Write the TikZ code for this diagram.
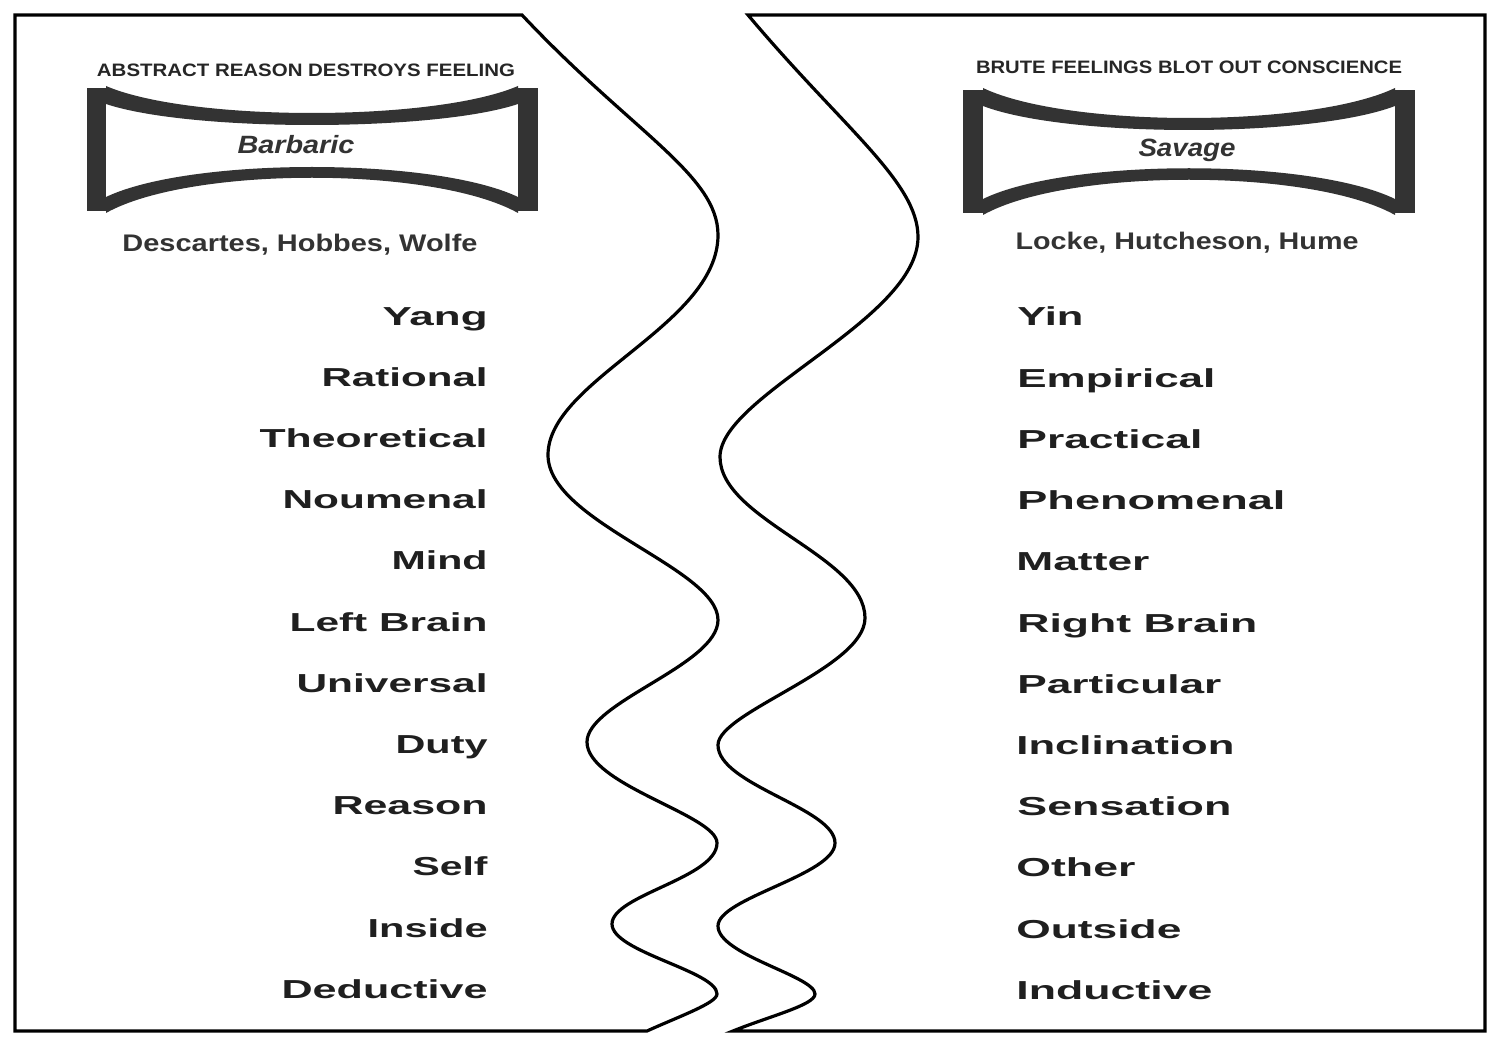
\documentclass[tikz,border=0pt]{standalone}
\usepackage{fontspec}
\setmainfont{Liberation Sans}
\usepackage{graphicx}
\newcommand{\fw}[2]{\resizebox{\dimexpr #1pt/2\relax}{\height}{#2}}
\tikzset{
  panel/.style={line width=1.6pt, line join=miter},
  hgfill/.style={fill=black!80},
  item/.style={inner sep=0pt, font=\fontsize{13}{15}\selectfont\bfseries, text=black!88},
  litem/.style={item, anchor=base east},
  ritem/.style={item, anchor=base west},
  headtxt/.style={inner sep=0pt, anchor=base, font=\fontsize{9}{11}\selectfont\bfseries, text=black!85},
  kindtxt/.style={inner sep=0pt, anchor=base, font=\fontsize{12.5}{14}\selectfont\bfseries\itshape, text=black!80},
  nametxt/.style={inner sep=0pt, anchor=base, font=\fontsize{12}{14}\selectfont\bfseries, text=black!80}
}
\begin{document}
\begin{tikzpicture}[x=0.5pt,y=-0.5pt]
\fill[white] (0,0) rectangle (1500,1043);
\useasboundingbox (0,0) rectangle (1500,1043);

% left panel
\draw[panel] (647,1031) -- (15,1031) -- (15,15) -- (522,15)
  .. controls (632,132) and (718,175) .. (718,235)
  .. controls (718,325) and (548,380) .. (548,455)
  .. controls (548,522) and (718,568) .. (718,620)
  .. controls (718,665) and (587,702) .. (587,742)
  .. controls (587,785) and (717,815) .. (717,843)
  .. controls (717,878) and (612,895) .. (612,924)
  .. controls (612,952) and (717,971) .. (717,994)
  .. controls (717,1003) and (680,1016) .. (647,1031) -- cycle;

% right panel
\draw[panel] (733,1031) -- (1485,1031) -- (1485,15) -- (748,15)
  .. controls (843,128) and (918,182) .. (918,237)
  .. controls (918,320) and (720,395) .. (720,457)
  .. controls (720,520) and (865,556) .. (865,618)
  .. controls (865,668) and (718,712) .. (718,745)
  .. controls (718,785) and (835,808) .. (835,843)
  .. controls (835,875) and (718,898) .. (718,926)
  .. controls (718,955) and (815,976) .. (815,994)
  .. controls (815,1005) and (770,1016) .. (733,1031) -- cycle;

% left hourglass
\fill[hgfill] (87,88) rectangle (106,211);
\fill[hgfill] (518,88) rectangle (538,211);
\fill[hgfill] (106,86) .. controls (190,122) and (434,122) .. (518,86) -- (518,104)
  .. controls (434,132) and (190,132) .. (106,104) -- cycle;
\fill[hgfill] (106,197) .. controls (190,157) and (434,157) .. (518,197) -- (518,213)
  .. controls (434,166) and (190,166) .. (106,213) -- cycle;

% right hourglass
\fill[hgfill] (963,90) rectangle (983,213);
\fill[hgfill] (1395,90) rectangle (1415,213);
\fill[hgfill] (983,88) .. controls (1067,128) and (1311,128) .. (1395,88) -- (1395,106)
  .. controls (1311,138) and (1067,138) .. (983,106) -- cycle;
\fill[hgfill] (983,199) .. controls (1067,158) and (1311,158) .. (1395,199) -- (1395,215)
  .. controls (1311,168) and (1067,168) .. (983,215) -- cycle;

% headings
\node[headtxt] (lhead) at (306,77) {\fw{418}{ABSTRACT REASON DESTROYS FEELING}};
\node[headtxt] (rhead) at (1189,74) {\fw{426}{BRUTE FEELINGS BLOT OUT CONSCIENCE}};
\node[kindtxt] (lkind) at (296,154) {\fw{117}{Barbaric}};
\node[kindtxt] (rkind) at (1187,157) {\fw{97}{Savage}};
\node[nametxt] (lnames) at (300,252) {\fw{355}{Descartes, Hobbes, Wolfe}};
\node[nametxt] (rnames) at (1187,250) {\fw{343}{Locke, Hutcheson, Hume}};

% left list
\node[litem] (l1) at (488,325) {\fw{105}{Yang}};
\node[litem] (l2) at (488,386.2) {\fw{166}{Rational}};
\node[litem] (l3) at (488,447.4) {\fw{228}{Theoretical}};
\node[litem] (l4) at (488,508.6) {\fw{205}{Noumenal}};
\node[litem] (l5) at (488,569.8) {\fw{96}{Mind}};
\node[litem] (l6) at (488,631) {\fw{198}{Left Brain}};
\node[litem] (l7) at (488,692.2) {\fw{191}{Universal}};
\node[litem] (l8) at (488,753.4) {\fw{92}{Duty}};
\node[litem] (l9) at (488,814.6) {\fw{155}{Reason}};
\node[litem] (l10) at (488,875.8) {\fw{75}{Self}};
\node[litem] (l11) at (488,937) {\fw{120}{Inside}};
\node[litem] (l12) at (488,998.2) {\fw{206}{Deductive}};

% right list
\node[ritem] (r1) at (1017,326) {\fw{66}{Yin}};
\node[ritem] (r2) at (1017,387.2) {\fw{198}{Empirical}};
\node[ritem] (r3) at (1017,448.4) {\fw{185}{Practical}};
\node[ritem] (r4) at (1017,509.6) {\fw{268}{Phenomenal}};
\node[ritem] (r5) at (1016,570.8) {\fw{133}{Matter}};
\node[ritem] (r6) at (1017,632) {\fw{240}{Right Brain}};
\node[ritem] (r7) at (1017,693.2) {\fw{204}{Particular}};
\node[ritem] (r8) at (1016,754.4) {\fw{218}{Inclination}};
\node[ritem] (r9) at (1017,815.6) {\fw{214}{Sensation}};
\node[ritem] (r10) at (1016,876.8) {\fw{119}{Other}};
\node[ritem] (r11) at (1016,938) {\fw{165}{Outside}};
\node[ritem] (r12) at (1016,999.2) {\fw{196}{Inductive}};
\end{tikzpicture}
\end{document}
